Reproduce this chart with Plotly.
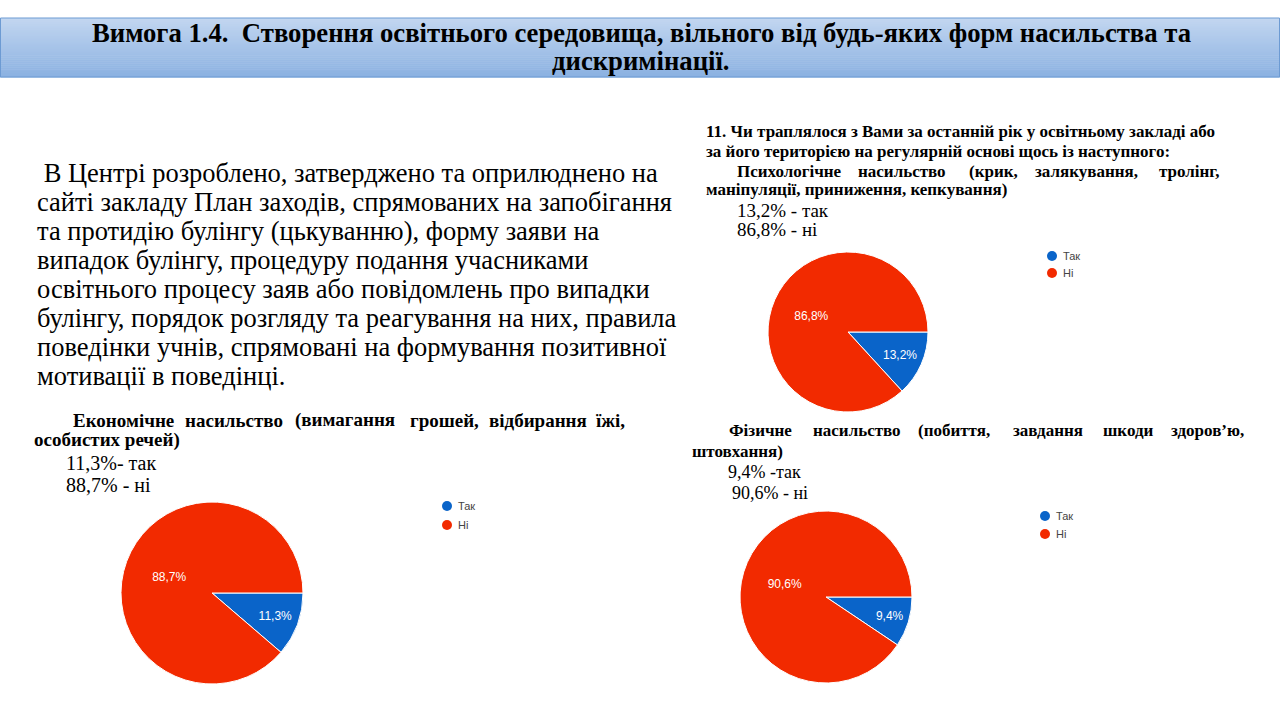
import plotly.graph_objects as go

W, H = 1280, 720

# ---------------- data ----------------
labels = ["Так", "Ні"]
colors = ["#0a64c9", "#f22a00"]
psych_values = [13.2, 86.8]
econ_values = [11.3, 88.7]
phys_values = [9.4, 90.6]

title_lines = [
    "Вимога 1.4.  Створення освітнього середовища, вільного від будь-яких форм насильства та",
    "дискримінації.",
]
paragraph_lines = [
    " В Центрі розроблено, затверджено та оприлюднено на",
    "сайті закладу План заходів, спрямованих на запобігання",
    "та протидію булінгу (цькуванню), форму заяви на",
    "випадок булінгу, процедуру подання учасниками",
    "освітнього процесу заяв або повідомлень про випадки",
    "булінгу, порядок розгляду та реагування на них, правила",
    "поведінки учнів, спрямовані на формування позитивної",
    "мотивації в поведінці.",
]
psych_text = [
    "11. Чи траплялося з Вами за останній рік у освітньому закладі або",
    "за його територією на регулярній основі щось із наступного:",
    "Психологічне насильство (крик, залякування, тролінг,",
    "маніпуляції, приниження, кепкування)",
]
psych_stats = ["13,2% - так", "86,8% - ні"]
econ_text = [
    "Економічне насильство (вимагання грошей, відбирання їжі,",
    "особистих речей)",
]
econ_stats = ["11,3%- так", "88,7% - ні"]
phys_text = [
    "Фізичне насильство (побиття, завдання шкоди здоров’ю,",
    "штовхання)",
]
phys_stats = ["9,4% -так", "90,6% - ні"]

SERIF = "Liberation Serif, Times New Roman, serif"
SANS = "Arial, Liberation Sans, sans-serif"


# ---------------- helpers ----------------
def px(x):
    return x / W


def py(y):
    return 1 - y / H


def dom(cx, cy, r):
    return dict(x=[px(cx - r), px(cx + r)], y=[py(cy + r), py(cy - r)])


annotations = []
shapes = []


def text(x, y, s, size, bold=False, family=SERIF, color="#000000", xanchor="left"):
    annotations.append(dict(
        x=px(x), y=py(y), xref="paper", yref="paper", showarrow=False,
        text=("<b>%s</b>" % s) if bold else s, xanchor=xanchor, yanchor="middle",
        font=dict(family=family, size=size, color=color), align="left",
    ))


def justified(starts, y, line, size, end_x):
    """Bold line spread between starts[0] and end_x (last word right-aligned)."""
    words = line.split(" ")
    for i, w in enumerate(words):
        if i == len(words) - 1:
            text(end_x, y, w, size, bold=True, xanchor="right")
        else:
            text(starts[i], y, w, size, bold=True)


def legend(x, y, step):
    for i, (lab, col) in enumerate(zip(labels, colors)):
        cy = y + i * step
        shapes.append(dict(type="circle", xref="paper", yref="paper",
                           x0=px(x - 5), x1=px(x + 5), y0=py(cy + 5), y1=py(cy - 5),
                           fillcolor=col, line=dict(width=0)))
        text(x + 9, cy, lab, 11, family=SANS, color="#444444")


# ---------------- title bar ----------------
top_c = (0xc2, 0xd6, 0xf0)
bot_c = (0x8c, 0xb2, 0xe2)
n = 30
y0, y1 = 18, 77
for i in range(n):
    t = i / (n - 1)
    c = tuple(int(top_c[k] + (bot_c[k] - top_c[k]) * t) for k in range(3))
    ya = y0 + (y1 - y0) * i / n
    yb = y0 + (y1 - y0) * (i + 1) / n + 0.5
    shapes.append(dict(type="rect", xref="paper", yref="paper", x0=0, x1=1,
                       y0=py(yb), y1=py(ya), fillcolor="rgb(%d,%d,%d)" % c,
                       line=dict(width=0), layer="below"))
shapes.append(dict(type="rect", xref="paper", yref="paper", x0=px(0.5), x1=px(1279.5),
                   y0=py(y1), y1=py(y0), line=dict(color="#6d9bd3", width=1),
                   fillcolor="rgba(0,0,0,0)", layer="below"))
text(641, 33, title_lines[0], 26.7, bold=True, xanchor="center")
text(641, 61, title_lines[1], 26.7, bold=True, xanchor="center")

# ---------------- left paragraph ----------------
for i, line in enumerate(paragraph_lines):
    text(35, 173 + i * 29, line, 26.5)

# ---------------- right top text ----------------
text(704, 131, psych_text[0], 17, bold=True)
text(704, 151, psych_text[1], 17, bold=True)
justified([735, 856, 967, 1033], 171, psych_text[2], 17, 1221)
text(704, 190, psych_text[3], 17, bold=True)
text(735, 210, psych_stats[0], 19)
text(735, 229, psych_stats[1], 19)

# ---------------- bottom left text ----------------
justified([71, 183, 293, 408, 487], 420, econ_text[0], 19, 627)
text(32, 440, econ_text[1], 19, bold=True)
text(64, 463, econ_stats[0], 20)
text(64, 485, econ_stats[1], 20)

# ---------------- bottom right text ----------------
justified([727, 811, 916, 1011, 1101], 430, phys_text[0], 17, 1246)
text(690, 451, phys_text[1], 17, bold=True)
text(726, 472, phys_stats[0], 18)
text(730, 493, phys_stats[1], 18)

# ---------------- legends ----------------
legend(1052, 256, 17)
legend(447, 506, 19)
legend(1045, 516, 18)

# ---------------- pies ----------------
fig = go.Figure()


def pie(values, d):
    fig.add_trace(go.Pie(
        labels=labels, values=values, sort=False, direction="clockwise", rotation=90,
        marker=dict(colors=colors, line=dict(color="white", width=1)),
        texttemplate="%{percent:.1%}", textposition="inside",
        insidetextorientation="horizontal",
        textfont=dict(family=SANS, size=12, color="white"),
        showlegend=False, domain=d, hoverinfo="label+percent",
    ))


pie(psych_values, dom(848, 332, 80))
pie(econ_values, dom(212, 593, 91))
pie(phys_values, dom(826, 597, 86))

fig.update_layout(
    width=W, height=H, autosize=False,
    margin=dict(l=0, r=0, t=0, b=0),
    paper_bgcolor="white", plot_bgcolor="white",
    separators=", ",
    shapes=shapes, annotations=annotations,
)

fig.write_html("out.html")
